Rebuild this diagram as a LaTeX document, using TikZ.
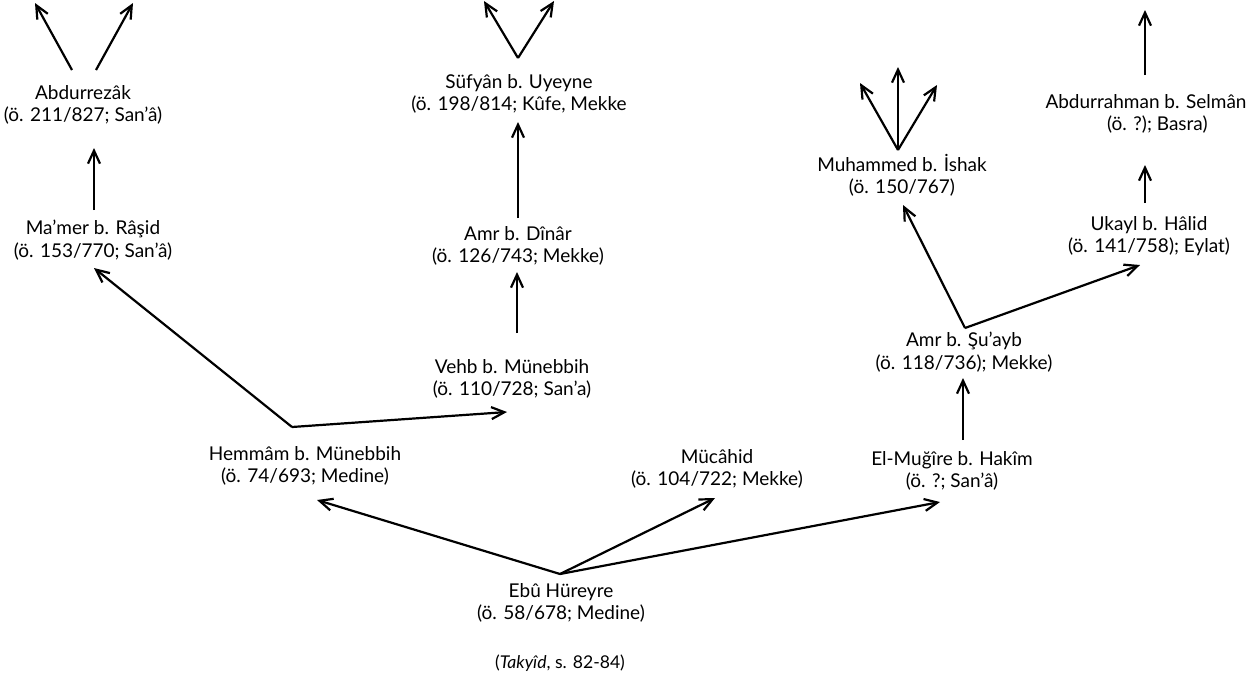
\documentclass[tikz,border=0pt]{standalone}
\usepackage{fontspec}
\setmainfont{Lato}
\usetikzlibrary{arrows.meta}
\begin{document}
\begin{tikzpicture}[x=0.5pt,y=-0.5pt,
  person/.style={align=center,font=\fontsize{9.5}{11.2}\selectfont,inner sep=0pt},
  captiontext/.style={font=\fontsize{8.8}{10}\selectfont,inner sep=0pt},
  link/.style={line width=1.1pt,-{Straight Barb[length=6.5pt,width=6pt,line width=1.1pt]}}]
\useasboundingbox (0,0) rectangle (1252,675);
% persons
\node[person] (abdurrezak) at (83,105) {Abdurrezâk\\(ö. 211/827; San'â)};
\node[person] (mamer) at (93,240) {Ma'mer b. Râşid\\(ö. 153/770; San'â)};
\node[person] (hemmam) at (305,466) {Hemmâm b. Münebbih\\(ö. 74/693; Medine)};
\node[person] (vehb) at (512,379) {Vehb b. Münebbih\\(ö. 110/728; San'a)};
\node[person] (amrd) at (518,246) {Amr b. Dînâr\\(ö. 126/743; Mekke)};
\node[person] (sufyan) at (519,94) {Süfyân b. Uyeyne\\(ö. 198/814; Kûfe, Mekke};
\node[person] (muhammed) at (902,175) {Muhammed b. İshak\\(ö. 150/767)};
\node[person] (abdurrahman) at (1146,114) {Abdurrahman b. Selmân\\\hspace*{1.2em}(ö. ?); Basra)};
\node[person] (ukayl) at (1149,236) {Ukayl b. Hâlid\\(ö. 141/758); Eylat)};
\node[person] (amrs) at (964,352) {Amr b. Şu'ayb\\(ö. 118/736); Mekke)};
\node[person] (mugire) at (952,471) {El-Muğîre b. Hakîm\\(ö. ?; San'â)};
\node[person] (mucahid) at (717,469) {Mücâhid\\(ö. 104/722; Mekke)};
\node[person] (ebu) at (561,603) {Ebû Hüreyre\\(ö. 58/678; Medine)};
\node[captiontext] (source) at (560,663) {(\textit{Takyîd}, s. 82-84)};
% branch points and arrow ends
\coordinate (abdA) at (72,70);  \coordinate (abdAt) at (35,3);
\coordinate (abdB) at (96,70);  \coordinate (abdBt) at (133,3);
\coordinate (mamOut) at (94,210); \coordinate (abdIn) at (94,148);
\coordinate (hemV) at (292,427);
\coordinate (mamIn) at (94,268); \coordinate (vehbIn) at (507,412);
\coordinate (vehbOut) at (517,333); \coordinate (amrdIn) at (517,272);
\coordinate (amrdOut) at (518,218); \coordinate (sufIn) at (518,122);
\coordinate (sufV) at (518,58); \coordinate (sufAt) at (484,1); \coordinate (sufBt) at (554,1);
\coordinate (ebuV) at (560,574);
\coordinate (hemIn) at (317,500); \coordinate (mucIn) at (715,498); \coordinate (mugIn) at (940,502);
\coordinate (mugOut) at (963,440); \coordinate (amrsIn) at (963,378);
\coordinate (amrsV) at (965,328);
\coordinate (muhIn) at (903,205); \coordinate (ukIn) at (1140,265);
\coordinate (muhV) at (898,150);
\coordinate (muhAt) at (860,83); \coordinate (muhBt) at (898,67); \coordinate (muhCt) at (937,85);
\coordinate (ukOut) at (1145,203); \coordinate (abrIn) at (1145,165);
\coordinate (abrOut) at (1145,75); \coordinate (abrt) at (1145,10);
% connectors
\draw[link] (abdA) -- (abdAt);
\draw[link] (abdB) -- (abdBt);
\draw[link] (mamOut) -- (abdIn);
\draw[link] (hemV) -- (mamIn);
\draw[link] (hemV) -- (vehbIn);
\draw[link] (vehbOut) -- (amrdIn);
\draw[link] (amrdOut) -- (sufIn);
\draw[link] (sufV) -- (sufAt);
\draw[link] (sufV) -- (sufBt);
\draw[link] (ebuV) -- (hemIn);
\draw[link] (ebuV) -- (mucIn);
\draw[link] (ebuV) -- (mugIn);
\draw[link] (mugOut) -- (amrsIn);
\draw[link] (amrsV) -- (muhIn);
\draw[link] (amrsV) -- (ukIn);
\draw[link] (muhV) -- (muhAt);
\draw[link] (muhV) -- (muhBt);
\draw[link] (muhV) -- (muhCt);
\draw[link] (ukOut) -- (abrIn);
\draw[link] (abrOut) -- (abrt);
\end{tikzpicture}
\end{document}
